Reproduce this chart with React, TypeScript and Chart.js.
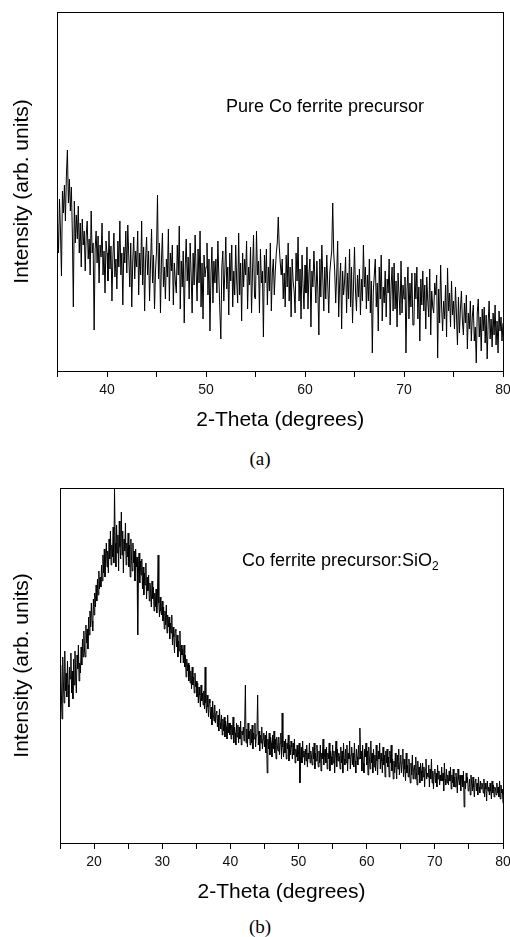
import React, { useEffect, useRef } from "react";
import { Chart, registerables } from "chart.js";

Chart.register(...registerables);

// ---------- data ----------
// Panel (a): 2-theta from 35 to 80 in 0.1 degree steps (one row = 1 degree)
const A_START = 35;
const A_STEP = 0.1;
const A_X_MIN = 35;
const A_X_MAX = 80;
const A_Y_MAX = 359;
const A_INTENSITY = [
  150, 118, 172, 140, 95, 180, 158, 186, 150, 196,
  221, 168, 192, 160, 184, 138, 64, 170, 128, 156,
  132, 165, 118, 148, 104, 152, 126, 140, 100, 136,
  150, 112, 132, 96, 160, 118, 128, 41, 122, 140,
  108, 135, 88, 126, 114, 148, 96, 120, 78, 130,
  118, 90, 140, 102, 125, 70, 116, 138, 94, 112,
  82, 130, 104, 150, 96, 118, 66, 124, 108, 140,
  98, 146, 115, 84, 128, 64, 110, 134, 92, 120,
  104, 140, 76, 118, 96, 150, 86, 124, 60, 112,
  134, 96, 120, 70, 108, 142, 88, 116, 62, 100,
  120, 176, 92, 128, 58, 110, 138, 84, 104, 72,
  112, 94, 142, 70, 118, 100, 126, 66, 108, 90,
  78, 126, 96, 145, 62, 110, 84, 120, 48, 104,
  132, 90, 114, 72, 128, 96, 58, 118, 86, 136,
  100, 70, 122, 88, 140, 64, 108, 52, 116, 94,
  104, 128, 76, 112, 40, 96, 124, 68, 110, 88,
  112, 78, 130, 94, 60, 32, 104, 120, 70, 98,
  134, 82, 104, 56, 118, 90, 126, 64, 100, 76,
  126, 90, 68, 138, 76, 108, 50, 118, 84, 112,
  96, 130, 62, 104, 86, 124, 58, 100, 136, 74,
  72, 140, 96, 110, 58, 122, 88, 100, 34, 116,
  88, 122, 66, 104, 80, 128, 60, 98, 112, 76,
  100, 118, 128, 154, 124, 108, 96, 112, 72, 98,
  64, 116, 84, 128, 70, 104, 54, 112, 90, 80,
  58, 118, 90, 134, 70, 102, 52, 116, 86, 62,
  106, 78, 124, 62, 98, 112, 44, 100, 84, 120,
  92, 68, 110, 80, 36, 112, 74, 126, 92, 60,
  104, 72, 116, 86, 58, 98, 110, 120, 168, 118,
  100, 68, 96, 130, 54, 88, 108, 42, 100, 76,
  90, 114, 58, 98, 72, 122, 64, 104, 48, 86,
  124, 80, 60, 96, 74, 102, 56, 92, 70, 126,
  84, 104, 62, 96, 70, 112, 58, 90, 18, 80,
  96, 112, 64, 88, 40, 104, 72, 116, 50, 84,
  68, 100, 54, 92, 78, 112, 46, 86, 104, 60,
  108, 62, 90, 44, 98, 76, 56, 110, 58, 86,
  72, 94, 18, 80, 104, 52, 88, 64, 98, 46,
  46, 98, 72, 104, 52, 84, 30, 92, 66, 100,
  60, 86, 42, 94, 70, 54, 102, 36, 80, 64,
  58, 88, 76, 96, 13, 82, 48, 106, 64, 40,
  70, 52, 86, 34, 103, 60, 78, 44, 90, 56,
  70, 42, 84, 56, 26, 74, 38, 62, 80, 50,
  36, 68, 48, 76, 22, 58, 42, 70, 30, 54,
  66, 30, 44, 8, 58, 72, 34, 54, 20, 62,
  40, 64, 28, 56, 12, 48, 70, 32, 52, 24,
  58, 36, 66, 26, 50, 18, 60, 40, 54, 30,
  48,
];

// Panel (b): 2-theta from 15 to 80 in 0.1 degree steps (one row = 1 degree)
const B_START = 15;
const B_STEP = 0.1;
const B_X_MIN = 15;
const B_X_MAX = 80;
const B_Y_MAX = 355;
const B_INTENSITY = [
  132, 178, 150, 124, 186, 160, 140, 192, 152, 170,
  146, 182, 158, 136, 176, 164, 190, 150, 172, 144,
  184, 158, 192, 166, 150, 188, 174, 198, 162, 180,
  170, 196, 178, 204, 186, 212, 192, 186, 218, 200,
  214, 194, 226, 208, 232, 216, 240, 222, 212, 244,
  228, 250, 236, 258, 242, 264, 248, 272, 254, 266,
  256, 278, 262, 288, 270, 294, 266, 284, 300, 276,
  292, 270, 304, 284, 312, 278, 298, 286, 316, 280,
  354, 300, 276, 318, 290, 308, 272, 322, 296, 284,
  331, 288, 312, 270, 304, 292, 320, 278, 300, 286,
  310, 276, 298, 266, 304, 284, 272, 300, 280, 292,
  262, 294, 276, 286, 208, 270, 290, 260, 282, 268,
  284, 254, 276, 248, 270, 258, 280, 244, 266, 252,
  268, 242, 260, 250, 236, 262, 244, 256, 232, 250,
  236, 254, 230, 248, 288, 240, 226, 246, 232, 228,
  242, 222, 236, 214, 232, 218, 238, 210, 228, 216,
  226, 204, 220, 210, 228, 198, 216, 206, 190, 212,
  214, 196, 208, 186, 202, 192, 212, 180, 198, 188,
  194, 180, 198, 176, 188, 166, 184, 172, 180, 162,
  178, 160, 172, 154, 176, 158, 166, 150, 170, 156,
  162, 146, 160, 140, 156, 148, 136, 158, 142, 150,
  138, 152, 134, 176, 140, 130, 148, 136, 126, 144,
  140, 124, 136, 118, 142, 128, 122, 138, 120, 130,
  132, 116, 128, 112, 134, 120, 114, 128, 108, 124,
  112, 126, 106, 122, 116, 104, 128, 110, 120, 108,
  120, 104, 118, 108, 126, 100, 116, 110, 98, 120,
  106, 118, 100, 116, 104, 122, 98, 112, 108, 116,
  102, 118, 158, 100, 114, 96, 120, 104, 112, 98,
  114, 100, 118, 94, 110, 104, 120, 96, 108, 112,
  148, 98, 112, 92, 108, 100, 116, 94, 104, 110,
  96, 108, 90, 112, 70, 104, 94, 110, 88, 106,
  100, 86, 108, 94, 112, 90, 104, 84, 106, 96,
  92, 106, 88, 100, 110, 84, 130, 96, 86, 102,
  90, 104, 84, 100, 94, 108, 82, 98, 88, 102,
  96, 84, 100, 88, 104, 80, 94, 86, 98, 82,
  90, 100, 60, 84, 96, 80, 102, 86, 92, 78,
  94, 82, 98, 76, 90, 84, 100, 80, 92, 86,
  78, 96, 84, 100, 74, 90, 82, 98, 86, 76,
  92, 80, 98, 72, 90, 84, 104, 78, 88, 94,
  80, 96, 74, 90, 84, 100, 72, 92, 86, 78,
  98, 80, 92, 70, 88, 102, 76, 94, 82, 90,
  86, 74, 96, 80, 92, 70, 100, 84, 78, 94,
  80, 98, 72, 90, 84, 102, 74, 88, 96, 78,
  90, 76, 100, 82, 70, 94, 86, 78, 98, 84,
  115, 84, 92, 72, 98, 80, 70, 94, 86, 100,
  78, 92, 68, 96, 84, 74, 102, 80, 90, 70,
  94, 76, 88, 72, 98, 82, 68, 92, 84, 100,
  74, 90, 82, 70, 96, 78, 88, 66, 92, 80,
  94, 76, 86, 66, 92, 80, 98, 72, 84, 64,
  82, 70, 90, 76, 64, 88, 74, 94, 68, 80,
  88, 70, 80, 94, 66, 84, 74, 62, 90, 70,
  78, 66, 84, 70, 60, 80, 68, 88, 64, 74,
  78, 64, 86, 70, 58, 82, 68, 76, 60, 80,
  72, 62, 80, 66, 76, 56, 74, 84, 64, 70,
  66, 78, 56, 74, 64, 84, 60, 72, 54, 70,
  74, 60, 70, 56, 78, 64, 72, 58, 68, 62,
  76, 62, 70, 52, 80, 64, 58, 74, 60, 68,
  58, 72, 62, 76, 54, 68, 60, 74, 56, 66,
  56, 70, 62, 50, 74, 64, 58, 68, 52, 66,
  68, 56, 72, 36, 62, 54, 70, 60, 66, 52,
  54, 64, 48, 68, 60, 52, 66, 56, 46, 62,
  64, 52, 60, 48, 66, 56, 50, 62, 54, 60,
  58, 50, 64, 46, 60, 54, 42, 62, 52, 56,
  48, 60, 52, 44, 62, 50, 58, 46, 56, 54,
  48, 60, 50, 56, 46, 62, 44, 58, 50, 54,
  40,
];

const X_TICK_STEP = 5;
const X_LABEL_EVERY = 10;
const X_TITLE = "2-Theta (degrees)";
const Y_TITLE = "Intensity (arb. units)";

const SANS = "'Liberation Sans', Arial, Helvetica, sans-serif";
const SERIF = "'Liberation Serif', 'Times New Roman', serif";

type PanelProps = {
  values: number[];
  start: number;
  step: number;
  xMin: number;
  xMax: number;
  yMax: number;
  top: number;
  width: number;
  height: number;
  yTitlePadOuter: number;
  yTitlePadInner: number;
  padRight: number;
};

function Panel(props: PanelProps) {
  const ref = useRef<HTMLCanvasElement | null>(null);
  useEffect(() => {
    if (!ref.current) return;
    const points = props.values.map((v, i) => ({ x: props.start + i * props.step, y: v }));
    const chart = new Chart(ref.current, {
      type: "line",
      data: {
        datasets: [
          {
            data: points,
            borderColor: "#000",
            borderWidth: 1,
            pointRadius: 0,
            tension: 0,
            fill: false,
          },
        ],
      },
      options: {
        responsive: false,
        maintainAspectRatio: false,
        animation: false,
        devicePixelRatio: 1,
        events: [],
        layout: { padding: { left: 0, right: props.padRight, top: 12, bottom: 3 } },
        plugins: { legend: { display: false }, tooltip: { enabled: false } },
        scales: {
          x: {
            type: "linear",
            position: "bottom",
            min: props.xMin,
            max: props.xMax,
            grid: {
              display: true,
              drawOnChartArea: false,
              drawTicks: true,
              tickLength: 6,
              color: "#000",
            },
            border: { display: true, color: "#000", width: 1 },
            ticks: {
              stepSize: X_TICK_STEP,
              autoSkip: false,
              maxRotation: 0,
              padding: 5,
              color: "#111",
              font: { family: SANS, size: 14 },
              callback: (v: any) => (Number(v) % X_LABEL_EVERY === 0 ? String(v) : ""),
            },
            title: {
              display: true,
              text: X_TITLE,
              color: "#000",
              font: { family: SANS, size: 21 },
              padding: { top: 4, bottom: 4 },
            },
          },
          y: {
            type: "linear",
            position: "left",
            min: 0,
            max: props.yMax,
            grid: { display: false, drawTicks: false },
            border: { display: true, color: "#000", width: 1 },
            ticks: { display: false },
            title: {
              display: true,
              text: Y_TITLE,
              color: "#000",
              font: { family: SANS, size: 21 },
              padding: { top: props.yTitlePadOuter, bottom: props.yTitlePadInner },
            },
          },
          x2: {
            type: "linear",
            position: "top",
            min: props.xMin,
            max: props.xMax,
            grid: { display: false, drawTicks: false },
            border: { display: true, color: "#000", width: 1 },
            ticks: { display: false },
          },
          y2: {
            type: "linear",
            position: "right",
            min: 0,
            max: props.yMax,
            grid: { display: false, drawTicks: false },
            border: { display: true, color: "#000", width: 1 },
            ticks: { display: false },
          },
        },
      },
    });
    return () => chart.destroy();
  }, []);
  return (
    <canvas
      ref={ref}
      width={props.width}
      height={props.height}
      style={{ position: "absolute", left: 0, top: props.top, width: props.width, height: props.height }}
    />
  );
}

export default function App() {
  return (
    <div
      style={{
        position: "absolute",
        left: 0,
        top: 0,
        width: 510,
        height: 937,
        overflow: "hidden",
        background: "#fff",
      }}
    >
      <Panel
        values={A_INTENSITY}
        start={A_START}
        step={A_STEP}
        xMin={A_X_MIN}
        xMax={A_X_MAX}
        yMax={A_Y_MAX}
        top={0}
        width={530}
        height={440}
        yTitlePadOuter={9.4}
        yTitlePadInner={22.9}
        padRight={27}
      />
      <div
        style={{
          position: "absolute",
          left: 226,
          top: 95,
          fontFamily: SANS,
          fontSize: 18,
          color: "#000",
          whiteSpace: "nowrap",
          lineHeight: "22px",
        }}
      >
        Pure Co ferrite precursor
      </div>
      <div
        style={{
          position: "absolute",
          left: 0,
          width: 520,
          top: 447,
          textAlign: "center",
          fontFamily: SERIF,
          fontSize: 19,
          lineHeight: "24px",
          color: "#000",
        }}
      >
        (a)
      </div>

      <Panel
        values={B_INTENSITY}
        start={B_START}
        step={B_STEP}
        xMin={B_X_MIN}
        xMax={B_X_MAX}
        yMax={B_Y_MAX}
        top={476}
        width={530}
        height={436}
        yTitlePadOuter={9.4}
        yTitlePadInner={25.4}
        padRight={27}
      />
      <div
        style={{
          position: "absolute",
          left: 242,
          top: 549,
          fontFamily: SANS,
          fontSize: 18,
          color: "#000",
          whiteSpace: "nowrap",
          lineHeight: "22px",
        }}
      >
        Co ferrite precursor:SiO
        <sub style={{ fontSize: 12, verticalAlign: "-4px", lineHeight: 0 }}>2</sub>
      </div>
      <div
        style={{
          position: "absolute",
          left: 0,
          width: 520,
          top: 915,
          textAlign: "center",
          fontFamily: SERIF,
          fontSize: 19,
          lineHeight: "24px",
          color: "#000",
        }}
      >
        (b)
      </div>
    </div>
  );
}
